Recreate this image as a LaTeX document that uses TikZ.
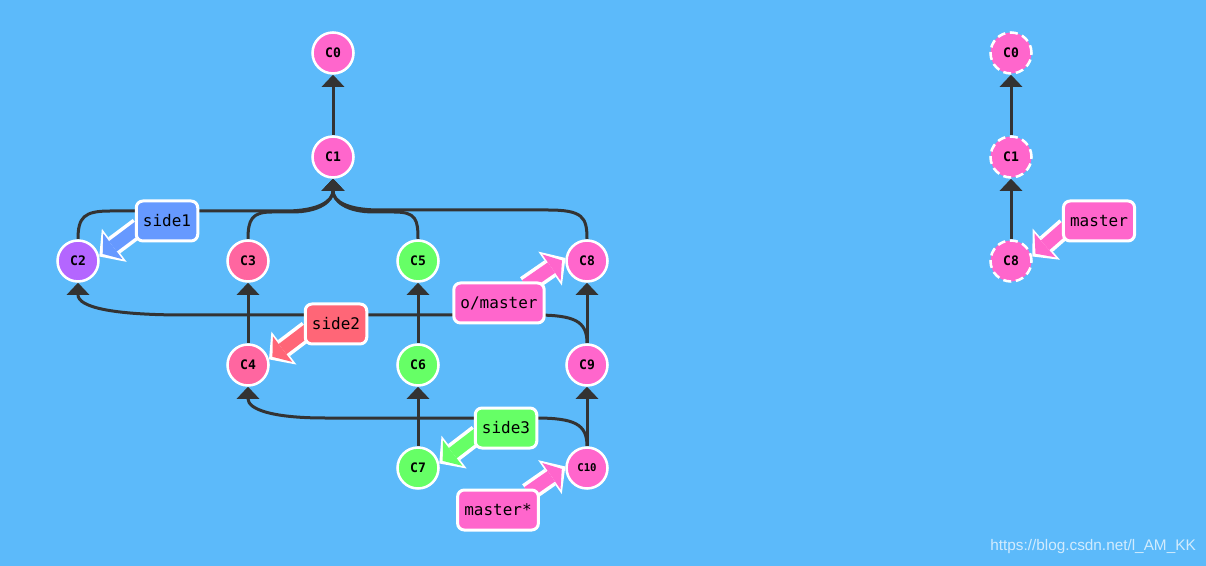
\documentclass[tikz,border=0pt]{standalone}
\usepackage{fontspec}
\newfontfamily\monofont{DejaVu Sans Mono}
\newfontfamily\wmfont{Liberation Sans}
\usetikzlibrary{arrows.meta}
\definecolor{bgblue}{RGB}{92,186,250}
\definecolor{cpink}{RGB}{255,102,204}
\definecolor{cpurple}{RGB}{180,102,255}
\definecolor{cblue}{RGB}{102,153,255}
\definecolor{crose}{RGB}{255,102,160}
\definecolor{cred}{RGB}{255,102,119}
\definecolor{cgreen}{RGB}{102,255,102}
\definecolor{edgegray}{RGB}{51,51,51}
\pgfdeclarelayer{bg}
\pgfdeclarelayer{edges}
\pgfdeclarelayer{front}
\pgfsetlayers{bg,edges,main,front}
\newcommand\lgbptr[3]{\draw[ptrwhite] #2 -- #3; \draw[ptr=#1] #2 -- #3;}
\begin{document}
\begin{tikzpicture}[x=0.75pt,y=-0.75pt,
 commit/.style={circle,draw=white,line width=1.9pt,minimum size=30.75pt,inner sep=0pt,
   font=\monofont\bfseries\fontsize{9.8}{10}\selectfont},
 ghost/.style={commit,dash pattern=on 6pt off 3.5pt},
 edge/.style={draw=edgegray,line width=2.25pt,-{Triangle[width=17pt,length=9pt,line width=0pt]}},
 tag/.style={rectangle,rounded corners=5pt,draw=white,line width=2.25pt,minimum height=30pt,
   inner xsep=5pt,font=\monofont\fontsize{12}{13}\selectfont},
 ptrwhite/.style={draw=white,line width=15pt,-{Triangle[width=31pt,length=14pt,line width=0pt]}},
 ptr/.style={draw=#1,line width=9.6pt,shorten >=3.2pt,-{Triangle[width=24pt,length=9.5pt,line width=0pt]}},
]
\useasboundingbox (0,0) rectangle (1206,566);
\begin{pgfonlayer}{bg}
\fill[bgblue] (0,0) rectangle (1206,566);
\end{pgfonlayer}

% labels (front layer)
\begin{pgfonlayer}{front}
\node[tag,fill=cblue] (side1) at (167,221) {side1};
\node[tag,fill=cred] (side2) at (336,324) {side2};
\node[tag,fill=cpink] (omaster) at (499,303) {o/master};
\node[tag,fill=cgreen] (side3) at (506,428) {side3};
\node[tag,fill=cpink] (mstar) at (498,510) {master*};
\node[tag,fill=cpink] (rmaster) at (1099,221) {master};
\node[font=\wmfont\fontsize{11.5}{12}\selectfont,text=white,opacity=0.72,anchor=east,inner sep=0pt] (wm) at (1196,547) {https://blog.csdn.net/l\_AM\_KK};
\end{pgfonlayer}

% commits
\node[commit,fill=cpink] (c0) at (333,53) {C0};
\node[commit,fill=cpink] (c1) at (333,157) {C1};
\node[commit,fill=cpurple] (c2) at (78,261) {C2};
\node[commit,fill=crose] (c3) at (248,261) {C3};
\node[commit,fill=cgreen] (c5) at (418,261) {C5};
\node[commit,fill=cpink] (c8) at (587,261) {C8};
\node[commit,fill=crose] (c4) at (248,365) {C4};
\node[commit,fill=cgreen] (c6) at (418,365) {C6};
\node[commit,fill=cpink] (c9) at (587,365) {C9};
\node[commit,fill=cgreen] (c7) at (418,468) {C7};
\node[commit,fill=cpink,font=\monofont\bfseries\fontsize{8}{9}\selectfont] (c10) at (587,468) {C10};

\node[ghost,fill=cpink] (r0) at (1011,53) {C0};
\node[ghost,fill=cpink] (r1) at (1011,157) {C1};
\node[ghost,fill=cpink] (r8) at (1011,261) {C8};

% edges
\begin{pgfonlayer}{edges}
\draw[edge] (c1) -- (c0);
\draw[edge] (r1) -- (r0);
\draw[edge] (r8) -- (r1);
\draw[edge] (c4) -- (c3);
\draw[edge] (c6) -- (c5);
\draw[edge] (c7) -- (c6);
\draw[edge] (c9) -- (c8);
\draw[edge] (c10) -- (c9);
\draw[edge] (c2.north) .. controls +(0,-22) and +(-26,0) .. (110,211) -- (285,211) .. controls +(34,0) and +(0,22) .. (c1.south);
\draw[edge] (c3.north) .. controls +(0,-20) and +(-20,0) .. (272,212) -- (292,212) .. controls +(28,0) and +(0,22) .. (c1.south);
\draw[edge] (c5.north) .. controls +(0,-20) and +(22,0) .. (394,212) -- (374,212) .. controls +(-28,0) and +(0,22) .. (c1.south);
\draw[edge] (c8.north) .. controls +(0,-22) and +(35,0) .. (548,210) -- (380,210) .. controls +(-34,0) and +(0,22) .. (c1.south);
\draw[edge] (c9.north) .. controls +(0,-22) and +(40,0) .. (535,315) -- (185,315) .. controls +(-75,0) and +(0,24) .. (c2.south);
\draw[edge] (c10.north) .. controls +(0,-22) and +(40,0) .. (535,418) -- (325,418) .. controls +(-55,0) and +(0,22) .. (c4.south);
\end{pgfonlayer}

% branch pointers
\lgbptr{cblue}{([shift={(4,6)}]side1.west)}{(c2.12)}
\lgbptr{cred}{([shift={(4,6)}]side2.west)}{(c4.15)}
\lgbptr{cpink}{([shift={(-20,4)}]omaster.north east)}{(c8.172)}
\lgbptr{cgreen}{([shift={(4,6)}]side3.west)}{(c7.12)}
\lgbptr{cpink}{([shift={(-12,4)}]mstar.north east)}{(c10.176)}
\lgbptr{cpink}{([shift={(4,6)}]rmaster.west)}{(r8.12)}
\end{tikzpicture}
\end{document}
